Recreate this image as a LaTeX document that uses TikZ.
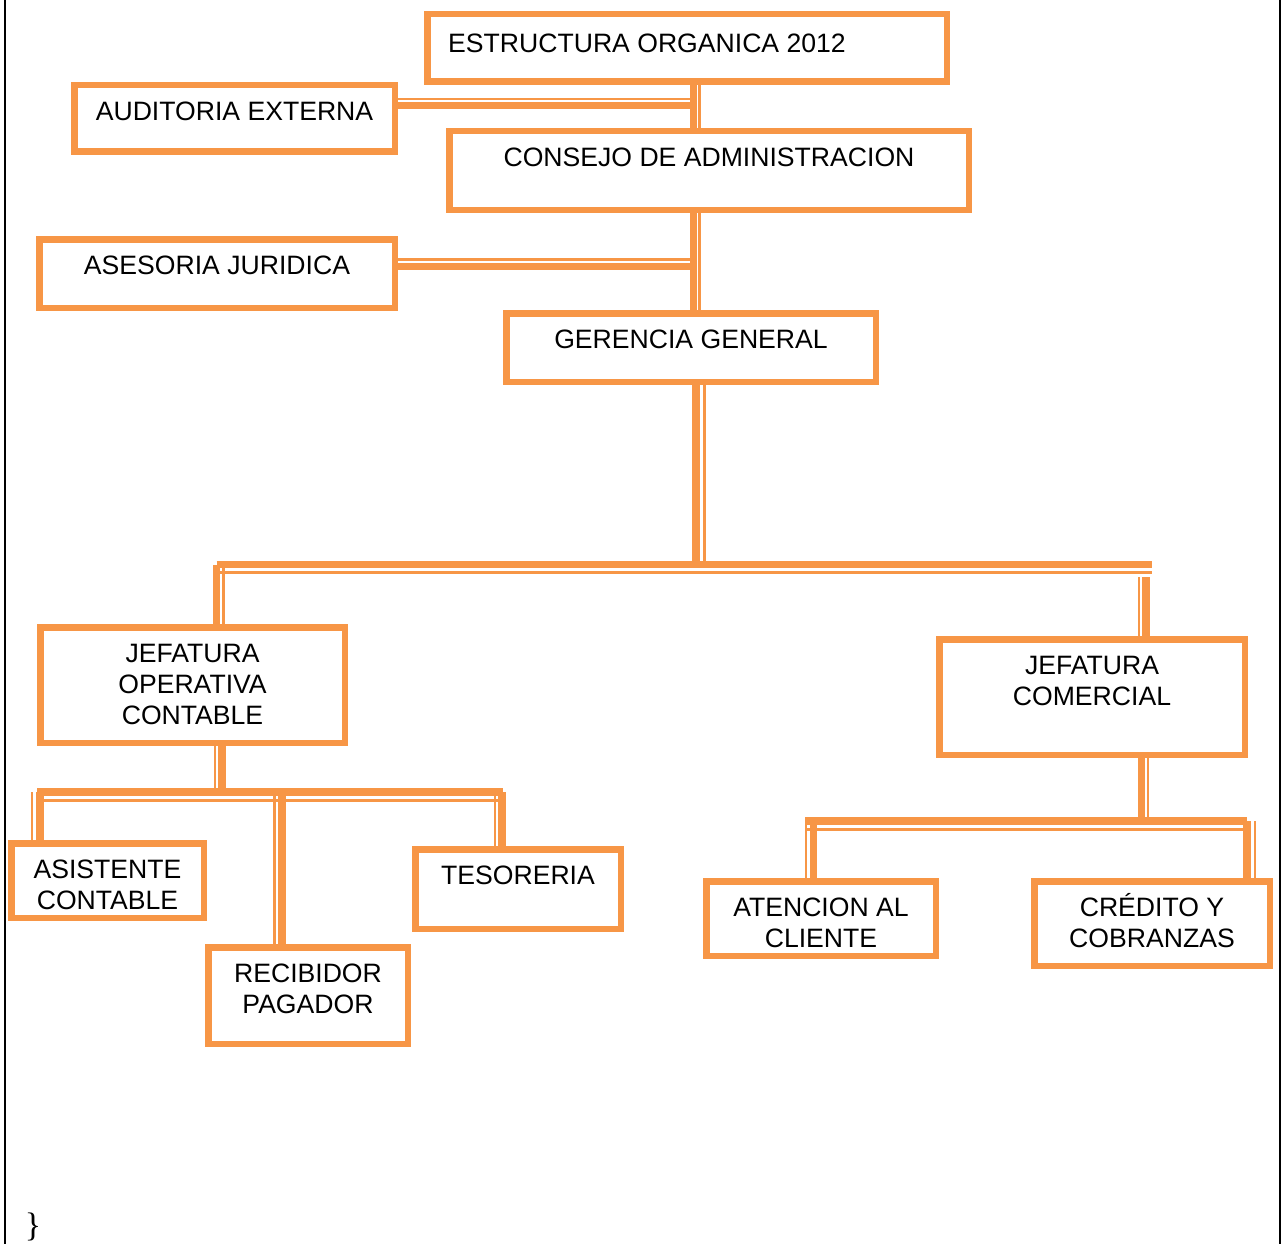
\documentclass[tikz,border=0pt]{standalone}
\usepackage{fontspec}
\setmainfont{Liberation Sans}
\newfontfamily\bracefont{Liberation Serif}
\definecolor{orgorange}{RGB}{247,150,70}
% box from outer edges: name, left, top, right, bottom, text
\newcommand{\orgbox}[6]{%
	\node[orgframe, minimum width={#4-#2-6.5}, minimum height={#5-#3-6.5}] (#1) at ({(#2+#4)/2},{(#3+#5)/2}) {};
	\node[orgtext] (#1t) at ([yshift=-14.6pt]#1.north) {\rule{0pt}{24pt}#6};
}
% thick and thin line side by side
\newcommand{\vlink}[4]{%
	\draw[linkbar] (#1 -| #3,0) -- (#2 -| #3,0);
	\draw[linkhair] (#1 -| #4,0) -- (#2 -| #4,0);
}
\newcommand{\hlink}[4]{%
	\draw[linkbar] (#1 |- 0,#3) -- (#2 |- 0,#3);
	\draw[linkhair] (#1 |- 0,#4) -- (#2 |- 0,#4);
}

\begin{document}
\begin{tikzpicture}[x=1pt, y=-1pt,
	orgframe/.style={draw=orgorange, line width=6.5pt, inner sep=0pt},
	orgtext/.style={anchor=north, inner sep=0pt, align=center, font=\fontsize{26.6}{31}\selectfont},
	linkbar/.style={draw=orgorange, line width=7.5pt},
	linkhair/.style={draw=orgorange, line width=2.8pt}]
	
	\useasboundingbox (0,0) rectangle (1283,1244);
	\draw[line width=2pt] (5,0) -- (5,1244);
	\draw[line width=2pt] (1280,0) -- (1280,1244);
	
	\coordinate (spine) at (693.5,0);
	\coordinate (bus1l) at (216.5,564.5);
	\coordinate (bus1r) at (1152,564.5);
	\coordinate (bus1d) at (1146,577);
	\coordinate (bus2l) at (37,792);
	\coordinate (bus2r) at (503,792);
	\coordinate (bus3l) at (805,821);
	\coordinate (bus3r) at (1247,821);
	
	% \orgbox{est}{424}{11}{950}{85}{ESTRUCTURA ORGANICA 2012}
	\node[orgframe, minimum width=519.5, minimum height=67.5] (est) at (687,48) {};
	\node[orgtext, anchor=north west] (estt) at (448,28.6) {\rule{0pt}{24pt}ESTRUCTURA ORGANICA 2012};
	
	\orgbox{aud}{71}{82}{398}{155}{AUDITORIA EXTERNA}
	\orgbox{con}{446}{128}{972}{213}{CONSEJO DE ADMINISTRACION}
	\orgbox{ase}{36}{236}{398}{311}{ASESORIA JURIDICA}
	\orgbox{ger}{503}{310}{879}{385}{GERENCIA GENERAL}
	
	\orgbox{joc}{37}{624}{348}{746}{JEFATURA\\OPERATIVA\\CONTABLE}
	\orgbox{jc}{936}{636}{1248}{758}{JEFATURA\\COMERCIAL}
	
	\orgbox{asi}{8}{840}{207}{921}{ASISTENTE\\CONTABLE}
	\orgbox{tes}{412}{846}{624}{932}{TESORERIA}
	\orgbox{rec}{205}{944}{411}{1047}{RECIBIDOR\\PAGADOR}
	\orgbox{ate}{703}{878}{939}{959}{ATENCION AL\\CLIENTE}
	\orgbox{cre}{1031}{878}{1273}{969}{CRÉDITO Y\\COBRANZAS}
	
	% top part
	\vlink{est.south}{con.north}{693.5}{699.5}
	\hlink{aud.east}{spine}{105.5}{99}
	\vlink{con.south}{ger.north}{693.5}{699.5}
	\hlink{ase.east}{spine}{266.5}{259.5}
	
	\vlink{ger.south}{bus1l}{696}{704.5}
	\hlink{bus1l}{bus1r}{564.5}{572.5}
	\vlink{bus1l}{joc.north}{216.5}{223.5}
	\vlink{bus1d}{jc.north}{1146}{1139}
	
	% left part
	\vlink{joc.south}{bus2l}{222}{215}
	\hlink{bus2l}{bus2r}{792}{800.5}
	\vlink{bus2l}{asi.north}{40}{32}
	\vlink{bus2l}{rec.north}{282}{274.5}
	\vlink{bus2r}{tes.north}{502}{495}
	
	% right part
	\vlink{jc.south}{bus3l}{1141.5}{1148}
	\hlink{bus3l}{bus3r}{821}{829.5}
	\vlink{bus3l}{ate.north}{813.5}{806}
	\vlink{bus3r}{cre.north}{1247}{1255}
	
	\node[anchor=base, inner sep=0pt, font=\bracefont\fontsize{34}{36}\selectfont] (brace) at (33,1236) {\}};

\end{tikzpicture}
\end{document}
